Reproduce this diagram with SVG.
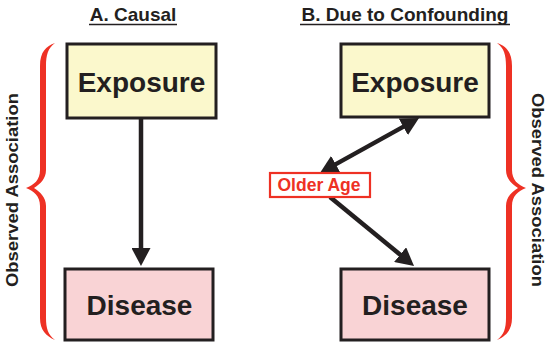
<svg xmlns="http://www.w3.org/2000/svg" width="547" height="344" viewBox="0 0 547 344">
<style>
.box{stroke:#231f20;stroke-width:3}
.exp{fill:#fbf8cc}
.dis{fill:#f9d3d5}
.lbl{font-family:"Liberation Sans",Arial,sans-serif;font-weight:bold;fill:#231f20;text-anchor:middle}
.big{font-size:28px}
.title{font-size:19px}
.side{font-size:17px}
.brace{fill:#ee3124}
.conn{stroke:#231f20;stroke-width:4.5;fill:none}
</style>
<defs>
<marker id="ah" markerUnits="userSpaceOnUse" viewBox="0 0 19 19" markerWidth="19" markerHeight="19" refX="8" refY="9.5" orient="auto-start-reverse">
<path d="M0,0 L18,9.5 L0,19 Z" fill="#231f20"/>
</marker>
</defs>
<g id="titles">
<text class="lbl title" x="133" y="21">A. Causal</text>
<line x1="89" y1="24.5" x2="177" y2="24.5" stroke="#231f20" stroke-width="1.6"/>
<text class="lbl title" x="405" y="21">B. Due to Confounding</text>
<line x1="300" y1="24.5" x2="510" y2="24.5" stroke="#231f20" stroke-width="1.6"/>
</g>
<g id="brace-left">
<path class="brace" d="M55,43 C46,46 40,52 40,66 L40,170 C40,180 34,185 26,188 C34,191 40,196 40,206 L40,318 C40,330 46,336 55,340 C48,335 46,328 46,318 L46,206 C46,197 40,192 34,188 C40,184 46,179 46,170 L46,66 C46,55 48,48 55,43 Z"/>
<text class="lbl side" transform="translate(18,190) rotate(-90)" textLength="194" lengthAdjust="spacingAndGlyphs">Observed Association</text>
</g>
<g id="brace-right">
<path class="brace" d="M497,43 C506,46 512,52 512,66 L512,170 C512,180 518,185 526,188 C518,191 512,196 512,206 L512,318 C512,330 506,336 497,340 C504,335 506,328 506,318 L506,206 C506,197 512,192 518,188 C512,184 506,179 506,170 L506,66 C506,55 504,48 497,43 Z"/>
<text class="lbl side" transform="translate(531.5,190) rotate(90)" textLength="194" lengthAdjust="spacingAndGlyphs">Observed Association</text>
</g>
<g id="connectors">
<line class="conn" x1="141" y1="118" x2="141" y2="256" marker-end="url(#ah)"/>
<line class="conn" x1="328.7" y1="168.1" x2="410.3" y2="122.9" marker-start="url(#ah)" marker-end="url(#ah)"/>
<line class="conn" x1="330" y1="197" x2="406.3" y2="259.7" marker-end="url(#ah)"/>
</g>
<g id="exposure-a">
<rect class="box exp" x="67" y="44" width="149" height="74"/>
<text class="lbl big" x="141.5" y="92">Exposure</text>
</g>
<g id="disease-a">
<rect class="box dis" x="65" y="269" width="148" height="71"/>
<text class="lbl big" x="139.5" y="315">Disease</text>
</g>
<g id="exposure-b">
<rect class="box exp" x="341" y="44" width="148" height="73"/>
<text class="lbl big" x="415" y="92">Exposure</text>
</g>
<g id="disease-b">
<rect class="box dis" x="341" y="269" width="148" height="71"/>
<text class="lbl big" x="415" y="315">Disease</text>
</g>
<g id="older-age">
<rect x="270" y="173" width="100" height="24" fill="#fff" stroke="#ee3124" stroke-width="2.2"/>
<text class="lbl" x="319" y="191" font-size="17.5" style="fill:#ee3124">Older Age</text>
</g>
</svg>
